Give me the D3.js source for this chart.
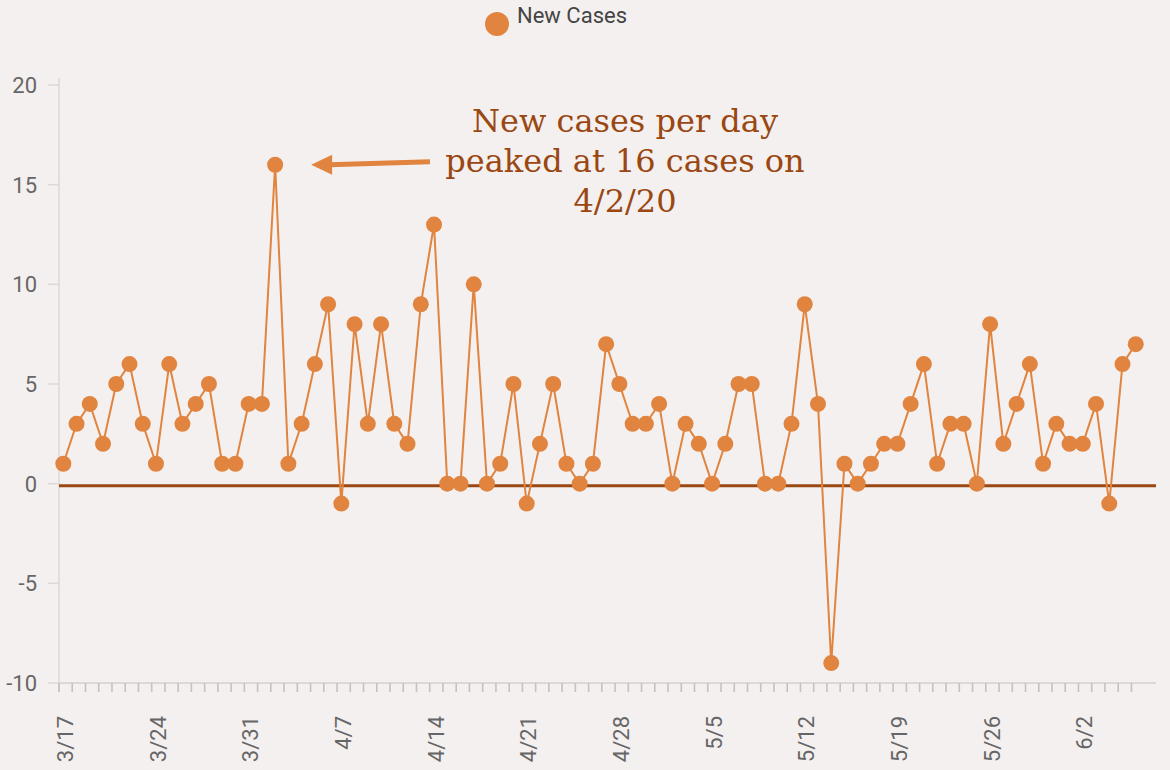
<!DOCTYPE html>
<html>
<head>
<meta charset="utf-8">
<script src="https://cdn.jsdelivr.net/npm/d3@7"></script>
<style>
  html, body { margin: 0; padding: 0; background: #f4f0ef; }
  #chart-container { width: 1170px; height: 770px; }
  text { font-family: Roboto, "Open Sans", sans-serif; }
</style>
</head>
<body>
<div id="chart-container"></div>
<script>
// daily new cases, 3/17 through 6/6
const startDate = '2020-03-17';
const newCases = [
    1, 3, 4, 2, 5, 6, 3, 1, 6, 3, 4, 5, 1, 1, 4, 4, 16, 1, 3, 6,
    9, -1, 8, 3, 8, 3, 2, 9, 13, 0, 0, 10, 0, 1, 5, -1, 2, 5, 1, 0,
    1, 7, 5, 3, 3, 4, 0, 3, 2, 0, 2, 5, 5, 0, 0, 3, 9, 4, -9, 1,
    0, 1, 2, 2, 4, 6, 1, 3, 3, 0, 8, 2, 4, 6, 1, 3, 2, 2, 4, -1,
    6, 7
];
const yTicks = [20, 15, 10, 5, 0, -5, -10];
const seriesName = 'New Cases';
const noteLines = ['New cases per day', 'peaked at 16 cases on', '4/2/20'];

const orange = '#e0843f';
const brown = '#9b4912';

const parse = d3.timeParse('%Y-%m-%d');
const day0 = parse(startDate);
const data = newCases.map((v, i) => ({ date: d3.timeDay.offset(day0, i), value: v }));

const width = 1170, height = 770;
const svg = d3.select('#chart-container')
    .append('svg')
    .attr('width', width)
    .attr('height', height);

const plotLeft = 59, plotRight = 1156;

const xScale = d3.scaleTime()
    .domain([day0, d3.timeDay.offset(day0, newCases.length)])
    .range([plotLeft, plotLeft + 13.24 * newCases.length]);

const yScale = d3.scaleLinear()
    .domain([-10, 20])
    .range([683, 85]);

// bullets sit a third of the way into each day cell
const xPos = d => xScale(d.date) + 4.3;

// y axis
svg.append('line')
    .attr('x1', plotLeft).attr('x2', plotLeft)
    .attr('y1', 78).attr('y2', 692)
    .attr('stroke', '#dcd8d7')
    .attr('stroke-width', 1.5);

const yAxis = svg.append('g').attr('class', 'axis');
yAxis.selectAll('line')
    .data(yTicks)
    .join('line')
    .attr('x1', 48).attr('x2', plotLeft)
    .attr('y1', d => yScale(d)).attr('y2', d => yScale(d))
    .attr('stroke', '#dcd8d7')
    .attr('stroke-width', 1.5);
yAxis.selectAll('text')
    .data(yTicks)
    .join('text')
    .attr('x', 37)
    .attr('y', d => yScale(d))
    .attr('dy', '0.36em')
    .attr('text-anchor', 'end')
    .style('font-size', '22px')
    .style('fill', '#666')
    .text(d => d);

// x axis
svg.append('line')
    .attr('x1', plotLeft).attr('x2', plotRight)
    .attr('y1', 683).attr('y2', 683)
    .attr('stroke', '#dcd8d7')
    .attr('stroke-width', 2);

const dayTicks = data.map(d => d.date);
svg.append('g')
    .selectAll('line')
    .data(dayTicks)
    .join('line')
    .attr('x1', d => xScale(d)).attr('x2', d => xScale(d))
    .attr('y1', 683).attr('y2', 692)
    .attr('stroke', '#c5c1c0')
    .attr('stroke-width', 1.6);

const weekTicks = dayTicks.filter((d, i) => i % 7 === 0);
const fmt = d3.timeFormat('%-m/%-d');
svg.append('g')
    .selectAll('text')
    .data(weekTicks)
    .join('text')
    .attr('transform', d => `translate(${xScale(d) + 6},716) rotate(-90)`)
    .attr('dy', '0.36em')
    .attr('text-anchor', 'end')
    .style('font-size', '22px')
    .style('fill', '#666')
    .text(d => fmt(d));

// zero line
svg.append('line')
    .attr('x1', plotLeft).attr('x2', plotRight)
    .attr('y1', yScale(0) + 2).attr('y2', yScale(0) + 2)
    .attr('stroke', brown)
    .attr('stroke-width', 3);

// series
const line = d3.line()
    .x(xPos)
    .y(d => yScale(d.value));

svg.append('path')
    .datum(data)
    .attr('d', line)
    .attr('fill', 'none')
    .attr('stroke', orange)
    .attr('stroke-width', 2);

svg.append('g')
    .selectAll('circle')
    .data(data)
    .join('circle')
    .attr('cx', xPos)
    .attr('cy', d => yScale(d.value))
    .attr('r', 8)
    .attr('fill', orange);

// legend
svg.append('circle')
    .attr('cx', 497).attr('cy', 24).attr('r', 12)
    .attr('fill', orange);
svg.append('text')
    .attr('x', 517).attr('y', 23)
    .style('font-size', '22px')
    .style('fill', '#444')
    .text(seriesName);

// annotation
const note = svg.append('text')
    .attr('text-anchor', 'middle')
    .style('font-family', '"DejaVu Serif", "Liberation Serif", serif')
    .style('font-size', '32px')
    .style('fill', '#9a4712');
note.selectAll('tspan')
    .data(noteLines)
    .join('tspan')
    .attr('x', 625)
    .attr('y', (d, i) => 132 + i * 40)
    .text(d => d);

// arrow pointing at the peak
const peak = data.find(d => d.value === d3.max(newCases));
const tipX = xPos(peak) + 36, tipY = yScale(peak.value);
svg.append('line')
    .attr('x1', 430).attr('y1', tipY - 3)
    .attr('x2', tipX + 18).attr('y2', tipY)
    .attr('stroke', orange)
    .attr('stroke-width', 5);
svg.append('path')
    .attr('d', `M${tipX},${tipY} L${tipX + 21},${tipY - 10} L${tipX + 21},${tipY + 10} Z`)
    .attr('fill', orange);
</script>
</body>
</html>
